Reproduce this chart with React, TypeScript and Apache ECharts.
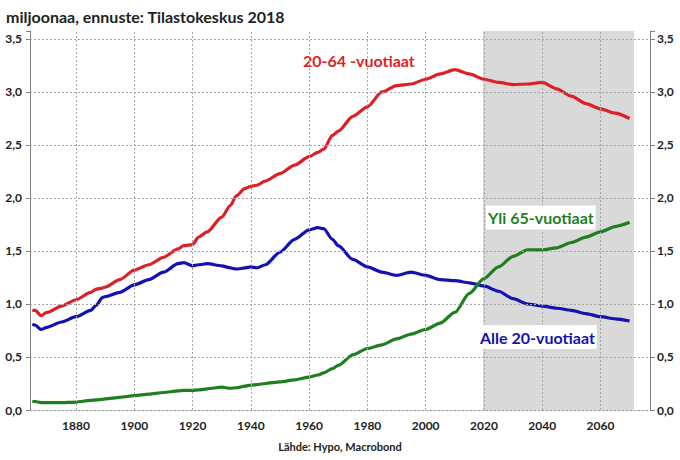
import React, { useEffect, useRef } from 'react';
import * as echarts from 'echarts';

// Years and population series (millions)
const years = [
  1865, 1866, 1868, 1870, 1875, 1880, 1885, 1887, 1889, 1890, 1895, 1900, 1905, 1910, 1915, 1917,
  1920, 1922, 1925, 1930, 1933, 1935, 1938, 1940, 1942, 1945, 1950, 1955, 1960, 1963, 1965, 1968,
  1970, 1975, 1980, 1985, 1990, 1995, 2000, 2005, 2010, 2015, 2020, 2025, 2030, 2035, 2040, 2045,
  2050, 2055, 2060, 2065, 2070,
];

const age20to64 = [
  0.94, 0.94, 0.89, 0.92, 0.98, 1.04, 1.11, 1.14, 1.15, 1.16, 1.23, 1.32, 1.37, 1.44, 1.52, 1.55,
  1.56, 1.63, 1.68, 1.82, 1.93, 2.02, 2.09, 2.11, 2.12, 2.16, 2.23, 2.31, 2.39, 2.43, 2.46, 2.59,
  2.63, 2.77, 2.86, 3.0, 3.06, 3.075, 3.12, 3.17, 3.21, 3.17, 3.12, 3.09, 3.07, 3.075, 3.09, 3.03,
  2.96, 2.89, 2.84, 2.8, 2.75,
];

const under20 = [
  0.81, 0.8, 0.76, 0.78, 0.83, 0.88, 0.94, 0.99, 1.06, 1.07, 1.11, 1.18, 1.23, 1.3, 1.38, 1.39,
  1.36, 1.37, 1.38, 1.36, 1.34, 1.33, 1.34, 1.35, 1.34, 1.37, 1.49, 1.61, 1.7, 1.72, 1.71, 1.61,
  1.55, 1.42, 1.35, 1.3, 1.27, 1.3, 1.27, 1.23, 1.22, 1.2, 1.17, 1.12, 1.05, 1.0, 0.98, 0.96,
  0.94, 0.91, 0.88, 0.86, 0.84,
];

const over65 = [
  0.08, 0.08, 0.07, 0.07, 0.07, 0.075, 0.09, 0.095, 0.1, 0.105, 0.12, 0.135, 0.15, 0.165, 0.18, 0.185,
  0.185, 0.19, 0.2, 0.215, 0.205, 0.21, 0.225, 0.235, 0.24, 0.25, 0.265, 0.285, 0.31, 0.33, 0.35, 0.39,
  0.42, 0.52, 0.58, 0.615, 0.67, 0.715, 0.76, 0.82, 0.92, 1.1, 1.24, 1.35, 1.45, 1.51, 1.51, 1.53,
  1.58, 1.63, 1.68, 1.73, 1.77,
];

const xTicks = [1880, 1900, 1920, 1940, 1960, 1980, 2000, 2020, 2040, 2060];
const yTicks = [0, 0.5, 1.0, 1.5, 2.0, 2.5, 3.0, 3.5];
const forecastStart = 2019.7;
const forecastEnd = 2071.5;

const titleText = 'miljoonaa, ennuste: Tilastokeskus 2018';
const sourceText = 'Lähde: Hypo, Macrobond';
const label20to64 = '20-64 -vuotiaat';
const labelOver65 = 'Yli 65-vuotiaat';
const labelUnder20 = 'Alle 20-vuotiaat';

const RED = '#dd1f26';
const BLUE = '#1212b0';
const GREEN = '#1f7f1f';
const FONT = "Lato, 'Open Sans', sans-serif";

const pairs = (vals: number[]) => years.map((y, i) => [y, vals[i]]);

const yFmt = (v: number) =>
  Math.abs(v * 2 - Math.round(v * 2)) < 1e-6 ? v.toFixed(1).replace('.', ',') : '';
const xFmt = (v: number) => (Math.abs(v / 20 - Math.round(v / 20)) < 1e-6 ? String(Math.round(v)) : '');

export default function App() {
  const ref = useRef<HTMLDivElement>(null);
  useEffect(() => {
    if (!ref.current) return;
    const chart = echarts.init(ref.current, undefined, { renderer: 'svg' });
    const yAxisBase = {
      type: 'value',
      min: 0,
      max: 3.575,
      interval: 0.5,
      splitLine: { show: false },
      axisLine: { show: true, lineStyle: { color: '#808080', width: 1 } },
      axisTick: { show: true, length: 4, lineStyle: { color: '#808080' } },
      axisLabel: {
        formatter: yFmt,
        color: '#222',
        fontWeight: 'bold',
        fontSize: 12,
        fontFamily: FONT,
      },
    };
    const lineSeries = (name: string, vals: number[], color: string) => ({
      name,
      type: 'line',
      data: pairs(vals),
      showSymbol: false,
      symbol: 'none',
      smooth: 0.25,
      smoothMonotone: 'x',
      z: 3,
      lineStyle: { color, width: 3.2 },
      itemStyle: { color },
    });
    chart.setOption({
      animation: false,
      grid: { left: 30, right: 30, top: 31, bottom: 50, containLabel: false },
      xAxis: {
        type: 'value',
        min: 1864.2,
        max: 2077,
        splitNumber: 10,
        splitLine: { show: false },
        axisLine: { show: true, lineStyle: { color: '#999', type: [2, 2] } },
        axisTick: { show: false },
        axisLabel: {
          formatter: xFmt,
          color: '#222',
          fontWeight: 'bold',
          fontSize: 12,
          fontFamily: FONT,
          margin: 9,
        },
      },
      yAxis: [
        { ...yAxisBase, position: 'left', axisLabel: { ...yAxisBase.axisLabel, margin: 8 } },
        {
          ...yAxisBase,
          position: 'right',
          axisTick: { show: true, length: 5, lineStyle: { color: '#808080' } },
          axisLabel: { ...yAxisBase.axisLabel, margin: 7 },
        },
      ],
      series: [
        {
          type: 'line',
          data: [],
          z: 1,
          silent: true,
          markArea: {
            silent: true,
            itemStyle: { color: '#d9d9d9' },
            data: [[{ xAxis: forecastStart }, { xAxis: forecastEnd }]],
          },
        },
        {
          type: 'line',
          data: [],
          z: 2,
          silent: true,
          markLine: {
            silent: true,
            symbol: ['none', 'none'],
            label: { show: false },
            lineStyle: { color: '#a6a6a6', type: [2, 2], width: 1 },
            data: [
              ...yTicks.filter((v) => v > 0).map((v) => ({ yAxis: v })),
              ...xTicks.map((v) => ({ xAxis: v })),
            ],
          },
        },
        lineSeries(label20to64, age20to64, RED),
        lineSeries(labelUnder20, under20, BLUE),
        lineSeries(labelOver65, over65, GREEN),
      ],
      graphic: [
        {
          type: 'text',
          x: 6,
          y: 16,
          style: { text: titleText, fill: '#222', font: `bold 16px ${FONT}`, align: 'left', verticalAlign: 'middle' },
        },
        {
          type: 'text',
          x: 303,
          y: 60,
          style: { text: label20to64, fill: RED, font: `bold 16px ${FONT}`, align: 'left', verticalAlign: 'middle' },
        },
        {
          type: 'text',
          x: 486,
          y: 217.5,
          z: 10,
          style: {
            text: labelOver65,
            fill: GREEN,
            font: `bold 16px ${FONT}`,
            align: 'left',
            verticalAlign: 'middle',
            backgroundColor: '#fff',
            padding: [4, 2],
          },
        },
        {
          type: 'text',
          x: 478,
          y: 337,
          z: 10,
          style: {
            text: labelUnder20,
            fill: BLUE,
            font: `bold 16px ${FONT}`,
            align: 'left',
            verticalAlign: 'middle',
            backgroundColor: '#fff',
            padding: [4, 2],
          },
        },
        {
          type: 'text',
          x: 340,
          y: 446,
          style: { text: sourceText, fill: '#222', font: `bold 11px ${FONT}`, align: 'center', verticalAlign: 'middle' },
        },
      ],
    });
    return () => chart.dispose();
  }, []);
  return (
    <div
      ref={ref}
      style={{ position: 'fixed', left: 0, top: 0, width: 680, height: 460, background: '#fff' }}
    />
  );
}
